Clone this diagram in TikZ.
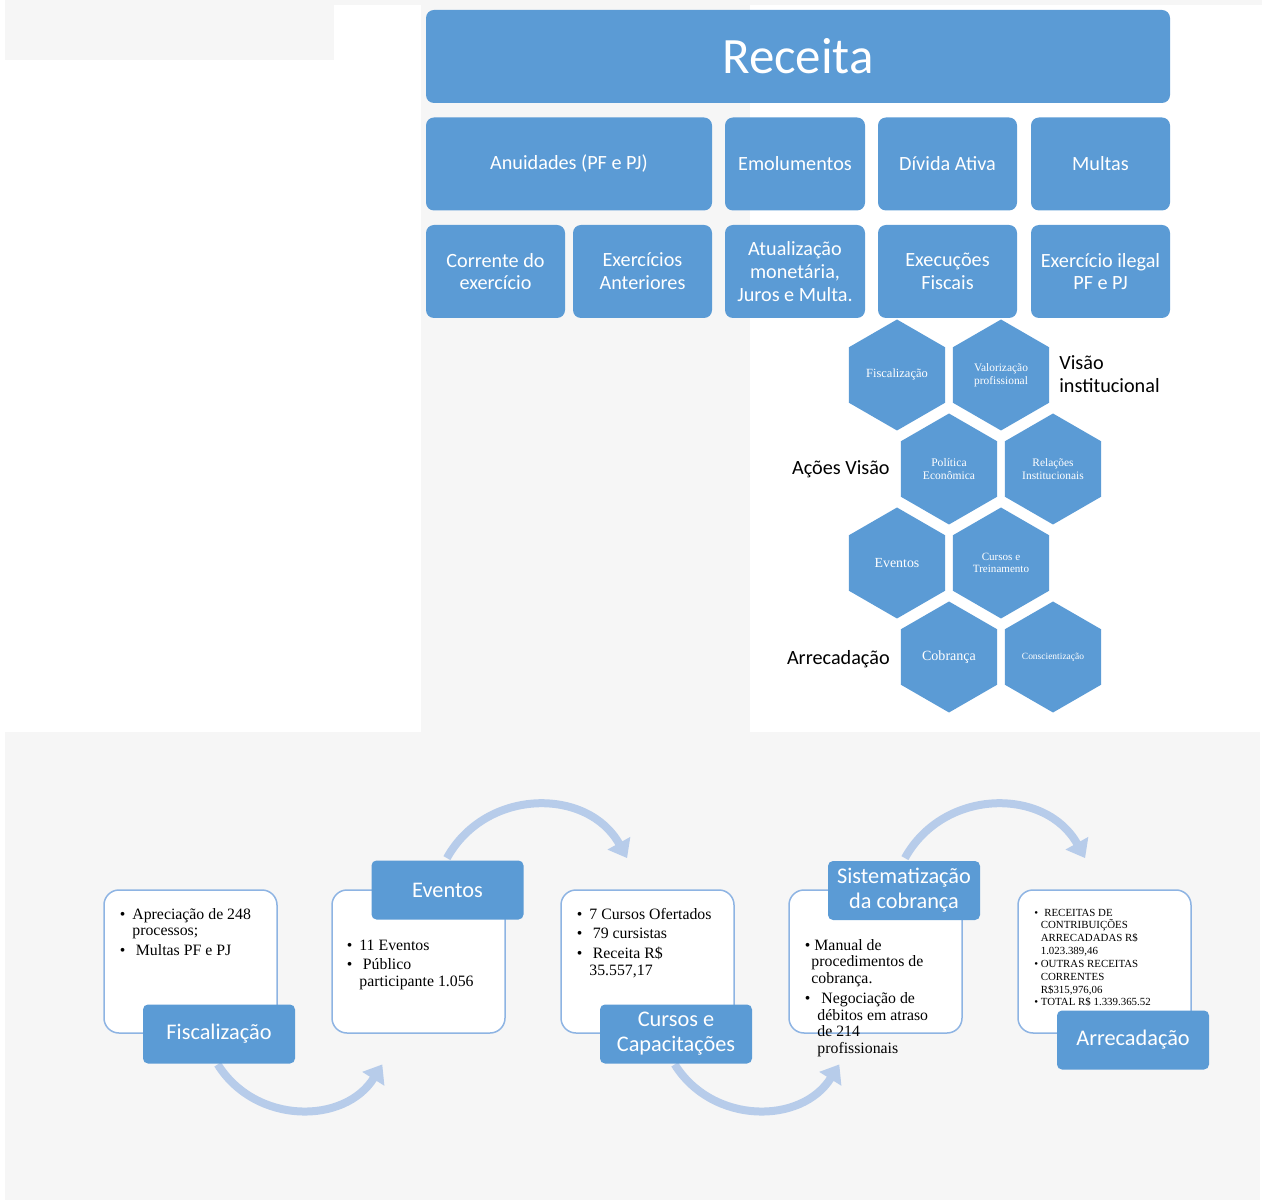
\documentclass[tikz,border=0pt]{standalone}
\usepackage{fontspec}
\setmainfont{Carlito}
\newfontfamily\tms{Liberation Serif}
\usetikzlibrary{shapes.geometric,arrows.meta}
\definecolor{boxblue}{HTML}{5B9BD5}
\definecolor{lineblue}{HTML}{8EB4E3}
\definecolor{flowblue}{HTML}{B7CCEA}
\definecolor{bggray}{HTML}{F6F6F6}
\newdimen\px \px=0.02cm
\newcommand{\fbig}{\fontsize{29}{34}\selectfont}
\newcommand{\fmid}{\fontsize{11.5}{13}\selectfont}
\newcommand{\flab}{\fontsize{12.7}{14.2}\selectfont}
\newcommand{\ftx}{\tms\fontsize{9}{9.6}\selectfont}
\newcommand{\ftiny}{\tms\fontsize{6.2}{7.3}\selectfont}

\begin{document}
\begin{tikzpicture}[x=0.02cm,y=-0.02cm]
      \tikzstyle{bnode} = [fill=boxblue, rounded corners=8\px, text=white, align=center, inner sep=0pt, font=\fmid]
      \tikzstyle{hnode} = [fill=boxblue, regular polygon, regular polygon sides=6, shape border rotate=30, minimum size=111\px, inner sep=0pt, text=white, align=center]
      \tikzstyle{cnode} = [draw=lineblue, line width=1.5\px, fill=white, rounded corners=15\px, minimum width=173\px, minimum height=143\px]
      \tikzstyle{lnode} = [fill=boxblue, rounded corners=5\px, text=white, align=center, minimum width=152\px, minimum height=59\px, inner sep=0pt, font=\flab]
      \tikzstyle{tnode} = [inner sep=0pt, anchor=base west]
      \tikzstyle{flow} = [draw=flowblue, line width=8\px, -{Triangle[width=0.5cm,length=0.34cm]}]

      % background
      \useasboundingbox (0,0) rectangle (1268,1202);
      \fill[bggray] (5,0) rectangle (334,60);
      \fill[bggray] (334,0) rectangle (1262,5);
      \fill[bggray] (421,5) rectangle (750,732);
      \fill[bggray] (5,732) rectangle (1260,1200);

      % receita
      \node[bnode, minimum width=744\px, minimum height=93\px, font=\fbig] (rec) at (798,56.5) {Receita};
      \begin{scope}[every node/.append style={minimum height=93\px}]
        \node[bnode, minimum width=286\px] (r11) at (569,164) {Anuidades (PF e PJ)};
        \node[bnode, minimum width=140\px] (r12) at (795,164) {Emolumentos};
        \node[bnode, minimum width=139\px] (r13) at (947.5,164) {Dívida Ativa};
        \node[bnode, minimum width=139\px] (r14) at (1100.5,164) {Multas};

        \node[bnode, minimum width=139\px] (r21) at (495.5,271.5) {Corrente do\\exercício};
        \node[bnode, minimum width=139\px] (r22) at (642.5,271.5) {Exercícios\\Anteriores};
        \node[bnode, minimum width=140\px] (r23) at (795,271.5) {Atualização\\monetária,\\Juros e Multa.};
        \node[bnode, minimum width=139\px] (r24) at (947.5,271.5) {Execuções\\Fiscais};
        \node[bnode, minimum width=139\px] (r25) at (1100.5,271.5) {Exercício ilegal\\PF e PJ};
      \end{scope}

      % hexagons
      \node[hnode, font=\tms\fontsize{7.1}{8}\selectfont] (h1) at (897,375) {Fiscalização};
      \node[hnode, font=\tms\fontsize{6.5}{7.4}\selectfont] (h2) at (1001,375) {Valorização\\profissional};
      \node[hnode, font=\tms\fontsize{6.6}{7.4}\selectfont] (h3) at (949,469) {Política\\Econômica};
      \node[hnode, font=\tms\fontsize{6.5}{7.4}\selectfont] (h4) at (1053,469) {Relações\\Institucionais};
      \node[hnode, font=\tms\fontsize{7.9}{9}\selectfont] (h5) at (897,563) {Eventos};
      \node[hnode, font=\tms\fontsize{6.3}{7.2}\selectfont] (h6) at (1001,563) {Cursos e\\Treinamento};
      \node[hnode, font=\tms\fontsize{8}{9}\selectfont] (h7) at (949,657) {Cobrança};
      \node[hnode, font=\tms\fontsize{5.4}{6}\selectfont] (h8) at (1053,657) {Conscientização};

      \node[inner sep=0pt, anchor=north west, align=left, font=\fmid] (vis) at (1059,355) {Visão\\institucional};
      \node[inner sep=0pt, anchor=base east, font=\fmid] (acv) at (890,475) {Ações Visão};
      \node[inner sep=0pt, anchor=base east, font=\fmid] (arr) at (890,664) {Arrecadação};

      % flow arrows
      \coordinate (a1) at (217.7,1064.4);
      \coordinate (a2) at (382.3,1064.4);
      \coordinate (b1) at (446.9,858.1);
      \coordinate (b2) at (627.1,858.1);
      \coordinate (c1) at (674.7,1064.4);
      \coordinate (c2) at (839.3,1064.4);
      \coordinate (d1) at (904.9,858.1);
      \coordinate (d2) at (1085.1,858.1);
      \draw[flow] (a1) to[out=-58, in=-122, looseness=1.11] (a2);
      \draw[flow] (b1) to[out=61, in=119, looseness=1.15] (b2);
      \draw[flow] (c1) to[out=-58, in=-122, looseness=1.11] (c2);
      \draw[flow] (d1) to[out=61, in=119, looseness=1.15] (d2);

      % content boxes
      \node[cnode] (c01) at (190.5,961.5) {};
      \node[cnode] (c02) at (418.5,961.5) {};
      \node[cnode] (c03) at (647.5,961.5) {};
      \node[cnode] (c04) at (875.5,961.5) {};
      \node[cnode] (c05) at (1104.5,961.5) {};

      \node[tnode, font=\ftx] (t01) at (119.5,919) {\begin{tabular}[t]{@{}l@{\hspace{4pt}}l@{}}
        \textbullet & Apreciação de 248\\
                    & processos;\\[1.7pt]
        \textbullet & \hspace{2pt}Multas PF e PJ
      \end{tabular}};
      \node[tnode, font=\ftx] (t02) at (346.5,950) {\begin{tabular}[t]{@{}l@{\hspace{4pt}}l@{}}
        \textbullet & 11 Eventos\\[1.7pt]
        \textbullet & \hspace{2pt}Público\\
                    & participante 1.056
      \end{tabular}};
      \node[tnode, font=\ftx] (t03) at (576.5,919) {\begin{tabular}[t]{@{}l@{\hspace{4pt}}l@{}}
        \textbullet & 7 Cursos Ofertados\\[1.7pt]
        \textbullet & \hspace{2pt}79 cursistas\\[1.7pt]
        \textbullet & \hspace{2pt}Receita R\$\\
                    & 35.557,17
      \end{tabular}};
      \node[tnode, font=\ftx] (t04) at (804.5,950) {\begin{tabular}[t]{@{}l@{\hspace{2.3pt}}l@{}}
        \textbullet & Manual de\\
                    & \hspace{-1.7pt}procedimentos de\\
                    & \hspace{-1.7pt}cobrança.\\[1.5pt]
        \textbullet & \hspace{4pt}Negociação de\\
                    & \hspace{1.7pt}débitos em atraso\\
                    & \hspace{1.7pt}de 214\\
                    & \hspace{1.7pt}profissionais
      \end{tabular}};
      \node[tnode, font=\ftiny] (t05) at (1034,916) {\begin{tabular}[t]{@{}l@{\hspace{1.5pt}}l@{}}
        \textbullet & \hspace{2pt}RECEITAS DE\\
                    & CONTRIBUIÇÕES\\
                    & ARRECADADAS R\$\\
                    & 1.023.389,46\\
        \textbullet & OUTRAS RECEITAS\\
                    & CORRENTES\\
                    & R\$315,976,06\\
        \textbullet & TOTAL R\$ 1.339.365.52
      \end{tabular}};

      % label boxes
      \node[lnode] (l01) at (219,1034) {Fiscalização};
      \node[lnode] (l02) at (447.5,890) {Eventos};
      \node[lnode] (l03) at (676,1034) {Cursos e\\Capacitações};
      \node[lnode] (l04) at (904,890.5) {Sistematização\\da cobrança};
      \node[lnode] (l05) at (1133,1040) {Arrecadação};
\end{tikzpicture}
\end{document}
